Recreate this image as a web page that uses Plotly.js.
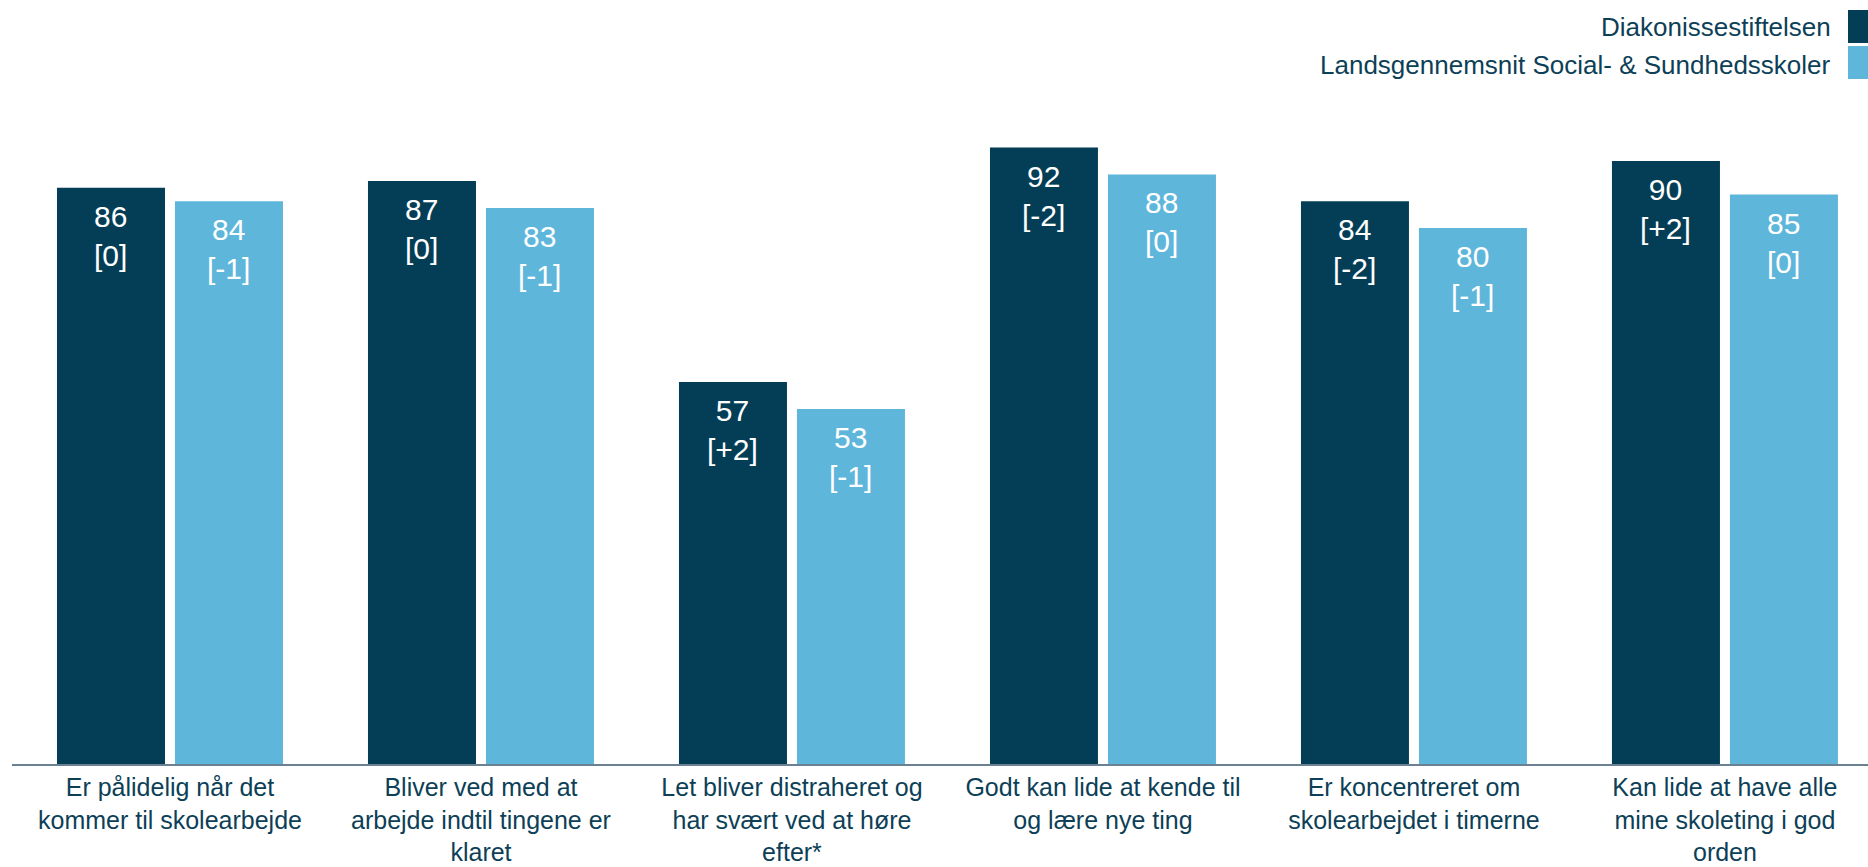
<!DOCTYPE html>
<html>
<head>
<meta charset="utf-8">
<script src="https://cdn.plot.ly/plotly-3.0.1.min.js"></script>
<style>html,body{margin:0;padding:0;background:#fff;}#chart{width:1868px;height:867px;}</style>
</head>
<body>
<div id="chart"></div>
<script>
const categories = [
  "Er pålidelig når det<br>kommer til skolearbejde",
  "Bliver ved med at<br>arbejde indtil tingene er<br>klaret",
  "Let bliver distraheret og<br>har svært ved at høre<br>efter*",
  "Godt kan lide at kende til<br>og lære nye ting",
  "Er koncentreret om<br>skolearbejdet i timerne",
  "Kan lide at have alle<br>mine skoleting i god<br>orden"
];
const seriesNames = ["Diakonissestiftelsen", "Landsgennemsnit Social- & Sundhedsskoler"];
const diakonValues = [86, 87, 57, 92, 84, 90];
const landsValues = [84, 83, 53, 88, 80, 85];
const diakonChange = ["0", "0", "+2", "-2", "-2", "+2"];
const landsChange = ["-1", "-1", "-1", "0", "-1", "0"];

const darkColor = "#033e56";
const lightColor = "#5eb6db";
const textColor = "#0d3f57";
const FONT = "Liberation Sans, Arial, sans-serif";

const traces = [
  {type: "bar", name: seriesNames[0], x: categories, y: diakonValues,
   marker: {color: darkColor}, showlegend: false, hoverinfo: "x+y"},
  {type: "bar", name: seriesNames[1], x: categories, y: landsValues,
   marker: {color: lightColor}, showlegend: false, hoverinfo: "x+y"}
];

const annotations = [];
const series = [[diakonValues, diakonChange, -59], [landsValues, landsChange, 59]];
series.forEach(([vals, chg, shift]) => {
  vals.forEach((v, i) => {
    annotations.push({
      x: i, y: v, xref: "x", yref: "y", showarrow: false,
      text: v + "<br>[" + chg[i] + "]",
      xanchor: "center", yanchor: "top", xshift: shift, yshift: -10,
      font: {family: FONT, size: 30, color: "#ffffff"}
    });
  });
});

// legend (text on left, swatch on right)
const legendColors = [darkColor, lightColor];
const legendY = [1.1007, 1.0433];
const swatchY = [[1.0761, 1.1254], [1.0224, 1.0716]];
const shapes = [];
seriesNames.forEach((n, k) => {
  annotations.push({
    x: 0.9811, y: legendY[k], xref: "paper", yref: "paper", showarrow: false,
    text: n, xanchor: "right", yanchor: "middle",
    font: {family: FONT, size: 26, color: textColor}
  });
  shapes.push({
    type: "rect", xref: "paper", yref: "paper",
    x0: 0.98922, x1: 1.0, y0: swatchY[k][0], y1: swatchY[k][1],
    fillcolor: legendColors[k], line: {width: 0}
  });
});

const layout = {
  width: 1868, height: 867,
  margin: {l: 12, r: 0, t: 94, b: 103},
  paper_bgcolor: "#ffffff", plot_bgcolor: "#ffffff",
  barmode: "group", bargap: 0.2412, bargroupgap: 0.0847,
  font: {family: FONT, color: textColor},
  xaxis: {
    type: "category", range: [-0.508, 5.46],
    showline: true, linecolor: "#6a8194", linewidth: 2,
    showgrid: false, zeroline: false, ticks: "",
    tickangle: 0, automargin: false, ticklabelstandoff: 0,
    tickfont: {family: FONT, size: 25, color: textColor}
  },
  yaxis: {range: [0, 100], visible: false, showgrid: false, zeroline: false, fixedrange: true},
  annotations: annotations,
  shapes: shapes
};

Plotly.newPlot("chart", traces, layout, {displayModeBar: false, responsive: false});
</script>
</body>
</html>
